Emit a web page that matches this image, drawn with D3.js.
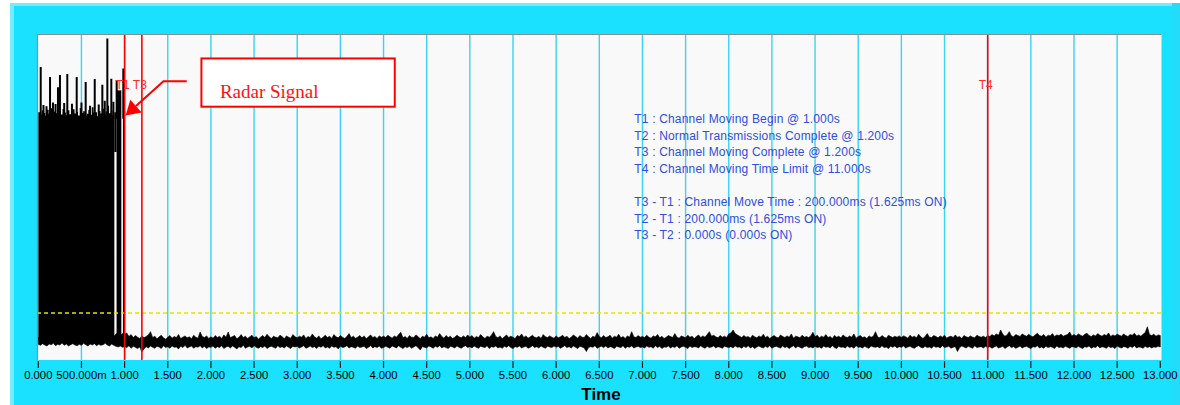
<!DOCTYPE html>
<html><head><meta charset="utf-8">
<script src="https://cdn.jsdelivr.net/npm/d3@7/dist/d3.min.js"></script>
<style>html,body{margin:0;padding:0;background:#fff;overflow:hidden}</style>
</head><body><svg id="c" width="1180" height="405"></svg>
<script>
// ---------- DATA ----------
const tickTimes = [0,0.5,1,1.5,2,2.5,3,3.5,4,4.5,5,5.5,6,6.5,7,7.5,8,8.5,9,9.5,10,10.5,11,11.5,12,12.5,13];
const tickLabels = ["0.000","500.000m","1.000","1.500","2.000","2.500","3.000","3.500","4.000","4.500","5.000","5.500","6.000","6.500","7.000","7.500","8.000","8.500","9.000","9.500","10.000","10.500","11.000","11.500","12.000","12.500","13.000"];

const markerNames = ["T1","T3","T4"];
const markerTimes = [1.0, 1.2, 11.0];

const threshold = 14.3;

// noise envelope, one value every 0.025 s from 0 to 13 s (one row per second)
const noiseStep = 0.025;
const noiseHigh = [
 6.9,7.4,6.6,7.1,7.8,6.8,7.2,6.5,7.5,7.0,6.7,7.9,7.1,6.6,7.3,7.7,6.8,7.0,7.4,6.5,7.2,7.8,6.9,7.1,6.6,7.5,7.0,7.3,6.7,7.6,7.1,6.8,7.4,6.9,7.7,7.2,8.0,8.4,7.5,8.1,
 7.9,8.3,7.2,7.8,6.9,7.5,7.0,6.6,7.4,6.8,7.2,7.7,8.7,6.9,7.3,6.5,7.1,7.6,6.8,6.4,7.0,7.5,6.7,7.2,6.9,7.8,6.6,7.0,7.4,6.8,7.1,6.5,7.6,7.0,6.7,8.6,7.2,6.9,7.4,6.6,
 7.1,6.7,7.5,6.9,7.3,6.6,7.7,7.0,8.6,6.8,7.2,7.5,6.5,7.0,7.8,6.9,7.3,6.6,7.1,7.6,6.8,7.2,6.4,7.0,7.5,6.9,7.9,7.1,6.6,7.3,7.0,6.8,7.6,7.2,6.5,7.4,7.0,6.7,7.8,7.1,
 6.8,7.3,7.0,7.7,6.6,7.2,6.9,8.0,7.1,6.7,7.4,6.5,7.0,7.6,6.9,7.3,6.6,7.8,7.1,6.8,7.5,7.0,6.6,7.2,8.1,6.9,7.3,6.7,7.0,7.5,6.8,7.4,6.5,7.1,7.7,6.9,7.2,6.6,7.4,7.0,
 7.3,6.9,7.6,7.1,6.7,7.4,7.0,7.8,8.5,6.8,7.2,6.6,7.5,7.0,6.9,7.7,7.2,6.5,7.3,7.0,7.9,6.8,7.1,6.6,7.4,7.0,8.1,7.2,6.7,7.5,6.9,7.3,6.6,7.0,7.6,7.1,6.8,7.4,6.9,7.7,
 7.0,7.5,6.7,7.2,6.9,7.8,7.1,6.6,7.3,7.0,7.6,8.7,7.2,6.8,7.4,6.5,7.1,7.7,6.9,7.3,7.0,6.6,7.5,7.2,8.0,6.9,7.4,6.7,7.1,7.6,7.0,6.8,7.3,6.6,7.8,7.1,6.9,7.4,7.0,6.7,
 7.4,6.8,7.1,7.6,6.9,7.3,6.6,7.0,7.7,7.2,6.7,7.5,7.0,6.9,7.8,7.1,6.6,7.3,7.0,8.4,7.2,6.8,7.5,6.9,7.1,7.6,6.7,7.3,7.0,7.9,6.8,7.2,6.6,7.4,7.0,8.7,7.1,6.9,7.5,7.0,
 7.2,6.9,7.6,7.0,6.7,7.4,7.1,7.8,6.8,7.3,6.6,7.0,7.5,7.2,6.9,8.1,7.0,6.7,7.4,7.1,6.8,7.6,7.0,7.3,6.6,7.2,7.7,6.9,7.4,7.0,7.8,8.7,7.3,7.6,7.1,6.8,7.5,7.0,7.3,6.9,
 8.0,8.3,9.2,8.1,7.7,7.3,6.9,7.5,7.0,7.2,6.7,7.6,7.1,6.8,7.4,7.0,7.9,6.9,7.3,6.6,7.1,7.5,7.0,6.8,7.7,7.2,6.9,7.4,7.0,8.0,6.7,7.3,7.1,6.8,7.6,7.0,7.2,6.9,7.4,8.5,
 7.1,7.6,6.8,7.3,7.0,7.8,6.9,7.2,6.6,7.5,7.0,7.3,6.8,7.7,7.1,6.9,7.4,7.0,8.0,6.7,7.2,7.5,6.9,7.1,6.6,7.4,7.0,7.3,8.7,7.1,6.8,7.5,7.0,6.7,7.6,7.2,6.9,7.3,7.0,7.4,
 6.9,7.4,7.1,6.7,7.6,7.0,7.3,6.8,7.9,7.1,6.6,7.2,8.1,7.0,6.9,7.5,7.2,6.8,7.4,7.0,7.6,6.7,7.1,7.3,6.9,7.7,7.0,7.2,6.6,7.5,7.1,6.9,7.4,7.0,6.8,7.6,7.2,7.0,7.3,6.9,
 7.5,7.2,7.8,7.4,8.0,7.6,9.2,7.9,7.3,7.7,8.7,7.4,7.1,7.8,7.5,7.2,8.0,7.6,7.3,7.9,7.4,7.1,7.7,8.2,7.5,7.3,7.8,7.0,7.6,7.4,8.1,7.2,7.7,7.5,7.9,7.3,7.6,7.8,8.6,7.4,
 7.8,7.4,8.0,7.6,7.3,7.9,8.2,7.5,7.2,7.7,7.4,8.1,7.6,7.3,7.8,7.5,8.3,7.2,7.7,7.4,7.9,7.6,7.3,8.0,7.5,7.2,7.8,7.6,8.2,7.4,7.7,7.3,7.9,8.4,10.2,7.8,7.5,7.9,7.3,7.7,
 7.5];
const noiseLow = [
 4.8,4.5,5.0,4.6,4.3,4.9,4.7,5.1,4.4,4.8,4.6,5.2,4.5,4.9,4.3,4.7,5.0,4.6,4.4,4.8,4.5,5.1,4.7,4.3,4.9,4.6,5.0,4.4,4.8,4.5,4.7,5.1,4.6,4.3,4.9,4.5,4.2,4.0,4.3,3.9,
 4.1,3.8,4.4,3.6,4.2,3.9,3.5,4.0,2.5,3.4,4.1,3.7,4.3,3.9,3.6,4.2,4.0,3.5,4.4,3.8,4.1,3.6,4.3,3.9,4.0,3.4,4.2,3.8,4.5,3.7,4.0,4.3,3.6,4.1,3.9,4.4,3.7,4.2,3.5,4.0,
 3.9,4.3,3.6,4.1,3.8,4.4,3.5,4.0,4.2,3.7,4.3,3.9,3.4,4.1,3.8,4.5,3.6,4.0,4.2,3.7,4.4,3.9,3.6,4.1,3.8,4.3,3.5,4.0,4.2,3.9,3.6,4.4,3.8,4.1,3.7,4.3,3.9,3.5,4.2,4.0,
 4.2,3.7,4.0,4.4,3.6,3.9,4.3,3.8,4.1,3.5,4.2,3.9,4.4,3.7,4.0,3.6,4.3,3.9,4.1,3.4,4.2,3.8,4.0,4.4,3.7,4.1,3.9,3.6,4.3,3.8,4.0,4.2,3.5,3.9,4.4,3.7,4.1,3.8,4.3,3.6,
 3.8,4.2,3.9,3.6,4.3,4.0,3.7,4.4,3.9,3.5,4.1,3.8,4.2,3.6,4.0,4.4,3.8,3.1,4.1,3.9,3.7,4.3,4.0,3.6,4.2,3.9,4.4,3.7,4.1,3.8,3.5,4.2,4.0,3.7,4.3,3.9,3.6,4.1,4.4,3.8,
 4.1,3.7,4.3,3.9,3.6,4.2,4.0,3.8,4.4,3.5,4.1,3.9,4.3,3.7,4.0,3.6,4.2,3.9,4.4,3.8,3.5,4.1,3.9,4.3,3.7,4.0,4.2,3.6,3.9,4.4,3.8,4.1,3.7,4.3,3.9,3.6,4.2,4.0,3.8,4.3,
 3.9,4.2,3.6,4.0,4.4,3.8,4.1,3.7,4.3,3.9,3.5,4.2,4.0,3.7,2.6,3.8,4.1,3.9,4.4,3.6,4.0,4.2,3.8,4.3,3.7,4.1,3.9,3.5,4.2,4.0,3.8,4.4,3.6,4.1,3.9,4.3,3.7,4.0,4.2,3.8,
 4.0,3.7,4.3,3.9,4.1,3.6,4.4,3.8,4.2,3.5,4.0,3.9,4.3,3.7,4.1,3.8,4.4,3.6,4.0,4.2,3.9,3.5,4.3,3.8,4.1,4.0,3.7,4.4,3.9,3.6,4.2,3.8,4.0,4.3,3.7,4.1,3.9,3.6,4.2,4.0,
 3.8,4.1,3.7,4.3,3.9,4.0,3.6,4.2,3.8,4.4,3.7,4.1,3.5,4.0,4.3,3.9,3.7,4.2,3.8,4.4,3.6,4.0,4.2,3.9,3.7,4.3,3.8,4.1,3.5,4.0,4.4,3.7,4.2,3.9,3.6,4.1,4.3,3.8,4.0,3.7,
 4.2,3.8,4.0,3.6,4.3,3.9,4.1,3.7,4.4,3.8,3.5,4.2,3.9,4.0,3.7,4.3,3.8,4.1,3.6,4.4,3.9,4.0,3.7,4.2,3.8,3.6,4.3,4.0,3.9,4.1,3.7,4.4,3.8,4.0,3.5,4.2,3.9,4.3,3.7,4.1,
 3.9,4.3,3.7,4.0,4.2,3.8,3.6,4.1,4.4,3.9,3.7,4.2,3.8,4.0,3.6,4.3,3.9,4.1,3.7,4.4,3.8,4.0,4.2,3.6,3.9,4.1,2.6,3.8,4.3,4.0,3.7,4.2,3.9,3.6,4.4,3.8,4.0,4.1,3.7,4.2,
 3.8,4.1,3.6,4.0,4.3,3.7,3.9,4.2,3.5,4.0,4.4,3.8,4.1,3.6,3.9,4.3,3.7,4.0,4.2,3.8,3.5,4.1,3.9,4.4,3.7,4.0,3.6,4.2,3.8,4.1,3.9,3.5,4.3,3.8,4.0,3.7,4.2,3.9,3.6,4.1,
 4.0,3.7,4.2,3.8,3.5,4.1,3.9,4.3,3.6,4.0,3.8,4.4,3.7,4.1,3.9,3.6,4.2,3.8,4.0,3.5,4.3,3.9,3.7,4.1,4.0,3.6,4.2,3.8,4.4,3.7,4.0,3.9,3.6,4.2,3.8,4.1,3.7,4.0,3.9,4.2,
 4.0];

// radar burst: dense block top, one value every 0.02 s from 0 to 0.88 s
const burstStep = 0.02;
const burstEnd = 0.881;
const burstBase = 6;
const burstTop = [76.0,75.2,76.5,75.8,74.9,76.8,75.5,77.2,75.0,76.2,75.7,74.8,76.4,75.3,77.0,75.9,75.1,76.6,75.4,74.7,
 76.9,75.6,76.1,75.0,77.3,75.8,76.3,74.9,75.5,76.7,75.2,77.5,75.9,76.0,74.8,76.4,75.6,77.1,75.3,76.2,78.0,75.7,76.5,75.0,76.3];
// trailing burst pieces: start, end, bottom, top
const pieceStart = [0.881, 0.907, 0.981];
const pieceEnd   = [0.907, 0.962, 1.000];
const pieceLow   = [63.8, 6, 6];
const pieceHigh  = [76.0, 82.7, 82.0];
// burst spikes
const spikeTimes = [0.028,0.060,0.095,0.136,0.170,0.200,0.228,0.251,0.300,0.336,0.390,0.445,0.500,0.549,0.600,0.654,0.700,0.742,0.770,0.800,0.846,0.870,0.908,0.985];
const spikeAmps  = [89.9,78.2,77.8,86.8,79.0,78.5,83.7,87.4,78.8,87.7,78.6,86.8,79.0,85.3,78.0,86.2,78.4,84.4,79.5,98.6,86.3,79.2,85.8,89.4];

const infoLines = [
 "T1 : Channel Moving Begin @ 1.000s",
 "T2 : Normal Transmissions Complete @ 1.200s",
 "T3 : Channel Moving Complete @ 1.200s",
 "T4 : Channel Moving Time Limit @ 11.000s",
 "",
 "T3 - T1 : Channel Move Time : 200.000ms (1.625ms ON)",
 "T2 - T1 : 200.000ms (1.625ms ON)",
 "T3 - T2 : 0.000s (0.000s ON)"
];
const calloutText = "Radar Signal";

// ---------- DRAW ----------
const svg = d3.select("#c");
const plotL = 37, plotT = 34, plotR = 1161.5, plotB = 360;
const x = d3.scaleLinear().domain([0, 13]).range([38.3, 1160.3]);
const y = d3.scaleLinear().domain([0, 100]).range([plotB, plotT]);

svg.append("rect").attr("width", 1180).attr("height", 405).attr("fill", "#ffffff");
svg.append("rect").attr("x", 10).attr("y", 3).attr("width", 1170).attr("height", 402).attr("fill", "#1ae1ff");
svg.append("rect").attr("x", 10).attr("y", 3).attr("width", 1170).attr("height", 3).attr("fill", "#70edff");
svg.append("rect").attr("x", 10).attr("y", 3).attr("width", 4).attr("height", 402).attr("fill", "#70edff");
svg.append("rect").attr("x", 1172).attr("y", 3).attr("width", 8).attr("height", 402).attr("fill", "#22dcfa");

svg.append("defs").append("clipPath").attr("id", "clip")
  .append("rect").attr("x", plotL).attr("y", plotT).attr("width", plotR - plotL).attr("height", plotB - plotT);

svg.append("rect").attr("x", plotL).attr("y", plotT).attr("width", plotR - plotL).attr("height", plotB - plotT)
  .attr("fill", "#f9f9f9");

const g = svg.append("g").attr("clip-path", "url(#clip)");

// grid
g.selectAll("line.grid").data(tickTimes.filter(t => t > 0 && t < 13)).join("line")
  .attr("class", "grid")
  .attr("x1", d => x(d)).attr("x2", d => x(d))
  .attr("y1", plotT).attr("y2", plotB)
  .attr("stroke", "#38d4f4").attr("stroke-width", 1.4);

// info text
const info = svg.append("g").attr("font-family", "Arial, 'Liberation Sans', sans-serif")
  .attr("font-size", 12).attr("letter-spacing", "0.18px").attr("fill", "#2b4fe0");
infoLines.forEach((s, i) => {
  if (!s) return;
  info.append("text").attr("x", x(6.905)).attr("y", plotT + 89 + i * 16.6).text(s);
});

// noise band
const noise = noiseHigh.map((h, i) => ({ t: i * noiseStep, hi: h, lo: noiseLow[i] }));
g.append("path").datum(noise)
  .attr("d", d3.area().x(d => x(d.t)).y0(d => y(d.lo)).y1(d => y(d.hi)))
  .attr("fill", "#000").attr("stroke", "#000").attr("stroke-width", 0.6);

// burst block
const burst = burstTop.map((v, i) => ({ t: i * burstStep, v }));
burst.push({ t: burstEnd, v: burstTop[burstTop.length - 1] });
g.append("path").datum(burst)
  .attr("d", d3.area().curve(d3.curveStepAfter).x(d => x(d.t)).y0(y(burstBase)).y1(d => y(d.v)))
  .attr("fill", "#000");

g.selectAll("rect.piece").data(pieceStart).join("rect")
  .attr("class", "piece")
  .attr("x", (d, i) => x(d)).attr("width", (d, i) => x(pieceEnd[i]) - x(d))
  .attr("y", (d, i) => y(pieceHigh[i])).attr("height", (d, i) => y(pieceLow[i]) - y(pieceHigh[i]))
  .attr("fill", "#000");

g.selectAll("line.spike").data(spikeTimes).join("line")
  .attr("class", "spike")
  .attr("x1", d => x(d)).attr("x2", d => x(d))
  .attr("y1", y(74)).attr("y2", (d, i) => y(spikeAmps[i]))
  .attr("stroke", "#000").attr("stroke-width", 2);

// threshold
const ty = Math.round(y(threshold));
g.append("line").attr("x1", plotL).attr("x2", plotR)
  .attr("y1", ty).attr("y2", ty)
  .attr("stroke", "#e2e200").attr("stroke-width", 1.5).attr("stroke-dasharray", "4,3");

// markers
g.selectAll("line.mk").data(markerTimes).join("line")
  .attr("class", "mk")
  .attr("x1", d => x(d)).attr("x2", d => x(d))
  .attr("y1", plotT).attr("y2", plotB)
  .attr("stroke", "#ff0000").attr("stroke-width", 1.6);
svg.selectAll("text.mk").data(markerTimes).join("text")
  .attr("class", "mk")
  .attr("x", d => x(d) - 2).attr("y", 88.5)
  .attr("text-anchor", "middle")
  .attr("font-family", "Arial, 'Liberation Sans', sans-serif").attr("font-size", 12)
  .attr("fill", "#ff2a2a")
  .text((d, i) => markerNames[i]);

// frame
svg.append("line").attr("x1", plotL).attr("x2", plotR).attr("y1", plotT + 0.5).attr("y2", plotT + 0.5)
  .attr("stroke", "#8c8c8c").attr("stroke-width", 1.2);
svg.append("line").attr("x1", plotL + 0.5).attr("x2", plotL + 0.5).attr("y1", plotT).attr("y2", plotB)
  .attr("stroke", "#8c8c8c").attr("stroke-width", 1.2);

// x axis ticks and labels
svg.selectAll("line.tick").data(tickTimes).join("line")
  .attr("class", "tick")
  .attr("x1", d => x(d)).attr("x2", d => x(d))
  .attr("y1", plotB + 1).attr("y2", plotB + 8)
  .attr("stroke", "#202020").attr("stroke-width", 1.2);
svg.selectAll("text.tick").data(tickTimes).join("text")
  .attr("class", "tick")
  .attr("x", d => x(d)).attr("y", 379)
  .attr("text-anchor", "middle")
  .attr("font-family", "Arial, 'Liberation Sans', sans-serif").attr("font-size", 11.3)
  .attr("fill", "#000")
  .text((d, i) => tickLabels[i]);
svg.append("text").attr("x", 601).attr("y", 400).attr("text-anchor", "middle")
  .attr("font-family", "Arial, 'Liberation Sans', sans-serif").attr("font-size", 17).attr("font-weight", "bold")
  .attr("fill", "#000").text("Time");

// callout
const tip = [x(1.0) + 1, y(75)];
const elbow = [x(1.45), y(85.5)];
const tail = [x(1.72), y(85.5)];
const dx = tip[0] - elbow[0], dy = tip[1] - elbow[1];
const len = Math.hypot(dx, dy), ux = dx / len, uy = dy / len;
const bx = tip[0] - ux * 14, by = tip[1] - uy * 14;
svg.append("polyline")
  .attr("points", [tail, elbow, [bx, by]].map(p => p.join(",")).join(" "))
  .attr("fill", "none").attr("stroke", "#ff0000").attr("stroke-width", 2);
svg.append("polygon")
  .attr("points", [tip, [bx - uy * 8.5, by + ux * 8.5], [bx + uy * 8.5, by - ux * 8.5]].map(p => p.join(",")).join(" "))
  .attr("fill", "#ff0000");
const bxL = x(1.89), bxR = x(4.13), byT = y(92.5), byB = y(77.7);
svg.append("rect").attr("x", bxL).attr("y", byT).attr("width", bxR - bxL).attr("height", byB - byT)
  .attr("fill", "#ffffff").attr("stroke", "#ff0000").attr("stroke-width", 2);
svg.append("text").attr("x", bxL + 18.5).attr("y", byT + 40)
  .attr("font-family", "'Times New Roman', 'Liberation Serif', serif").attr("font-size", 19)
  .attr("fill", "#ff1010").text(calloutText);
</script></body></html>
